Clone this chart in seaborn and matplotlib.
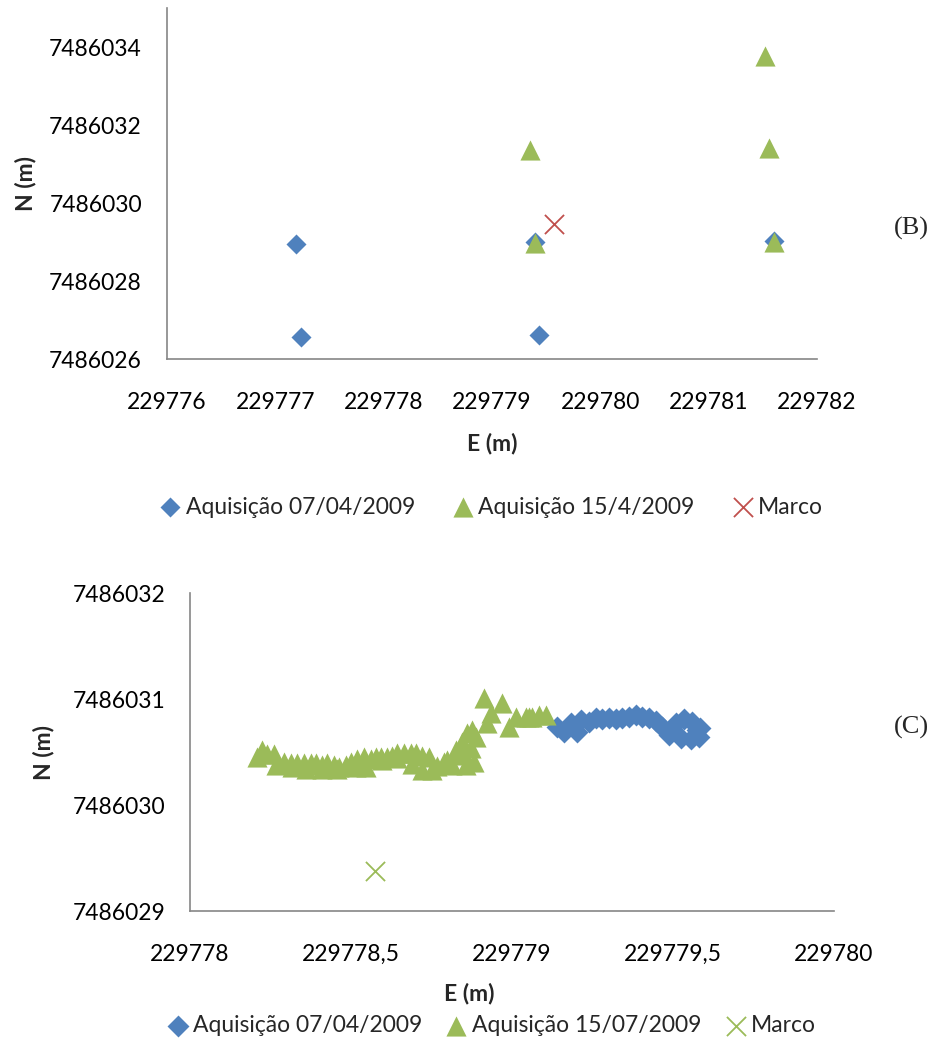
#-----------------------------------------------------------------
# Required Python Packages
#-----------------------------------------------------------------

import matplotlib
matplotlib.use("Agg")
import matplotlib.pyplot as plt
import seaborn as sns
from matplotlib.ticker import FixedLocator, FuncFormatter

#-----------------------------------------------------------------
# Data : panel (B)
#-----------------------------------------------------------------

B_BLUE_E = [229777.193, 229777.234, 229779.397, 229779.438, 229781.601]
B_BLUE_N = [7486028.949, 7486026.572, 7486029.010, 7486026.615, 7486029.030]

B_GREEN_E = [229779.355, 229779.397, 229781.518, 229781.559, 229781.601]
B_GREEN_N = [7486031.367, 7486028.982, 7486033.769, 7486031.403, 7486029.008]

B_MARCO_E = [229779.573]
B_MARCO_N = [7486029.462]

B_LABELS = ["Aquisição 07/04/2009", "Aquisição 15/4/2009", "Marco"]

#-----------------------------------------------------------------
# Data : panel (C)
#-----------------------------------------------------------------

C_BLUE_E = [229779.141, 229779.162, 229779.182, 229779.203, 229779.213,
            229779.239, 229779.260, 229779.280, 229779.301, 229779.322,
            229779.343, 229779.363, 229779.384, 229779.405, 229779.426,
            229779.446, 229779.467, 229779.488, 229779.508, 229779.524,
            229779.534, 229779.555, 229779.560, 229779.576, 229779.581,
            229779.583]
C_BLUE_N = [7486030.739, 7486030.692, 7486030.771, 7486030.692, 7486030.802,
            7486030.786, 7486030.818, 7486030.808, 7486030.818, 7486030.808,
            7486030.818, 7486030.833, 7486030.849, 7486030.833, 7486030.818,
            7486030.795, 7486030.739, 7486030.660, 7486030.771, 7486030.629,
            7486030.808, 7486030.620, 7486030.786, 7486030.708, 7486030.644,
            7486030.724]

C_GREEN_E = [229778.209, 229778.223, 229778.240, 229778.261, 229778.266,
             229778.292, 229778.313, 229778.318, 229778.333, 229778.354,
             229778.359, 229778.375, 229778.390, 229778.411, 229778.411,
             229778.426, 229778.447, 229778.457, 229778.463, 229778.484,
             229778.499, 229778.515, 229778.520, 229778.540, 229778.546,
             229778.561, 229778.577, 229778.592, 229778.597, 229778.613,
             229778.628, 229778.644, 229778.644, 229778.665, 229778.685,
             229778.690, 229778.701, 229778.721, 229778.721, 229778.742,
             229778.752, 229778.768, 229778.789, 229778.799, 229778.815,
             229778.825, 229778.840, 229778.846, 229778.850, 229778.856,
             229778.861, 229778.872, 229778.877, 229778.882, 229778.887,
             229778.913, 229778.923, 229778.934, 229778.970, 229778.991,
             229779.011, 229779.043, 229779.053, 229779.063, 229779.084,
             229779.105]
C_GREEN_N = [7486030.450, 7486030.519, 7486030.481, 7486030.481, 7486030.377,
             7486030.408, 7486030.393, 7486030.356, 7486030.393, 7486030.393,
             7486030.340, 7486030.393, 7486030.393, 7486030.377, 7486030.340,
             7486030.393, 7486030.377, 7486030.340, 7486030.356, 7486030.377,
             7486030.408, 7486030.361, 7486030.431, 7486030.450, 7486030.361,
             7486030.431, 7486030.450, 7486030.450, 7486030.425, 7486030.450,
             7486030.462, 7486030.488, 7486030.441, 7486030.493, 7486030.493,
             7486030.387, 7486030.488, 7486030.462, 7486030.330, 7486030.450,
             7486030.330, 7486030.368, 7486030.408, 7486030.425, 7486030.377,
             7486030.519, 7486030.470, 7486030.597, 7486030.480, 7486030.377,
             7486030.676, 7486030.540, 7486030.708, 7486030.408, 7486030.644,
             7486031.007, 7486030.771, 7486030.864, 7486030.959, 7486030.739,
             7486030.833, 7486030.833, 7486030.833, 7486030.833, 7486030.849,
             7486030.849]

C_MARCO_E = [229778.575]
C_MARCO_N = [7486029.377]

C_LABELS = ["Aquisição 07/04/2009", "Aquisição 15/07/2009", "Marco"]

#-----------------------------------------------------------------
# Styles
#-----------------------------------------------------------------

BLUE = "#4F81BD"
GREEN = "#9BBB59"
RED = "#C0504D"
AXIS_GREY = "#868686"
FONT = "Lato"
FSIZE = 16.5

#-----------------------------------------------------------------
# Function Name : comma_fmt
# Description   : tick label with a decimal comma
#-----------------------------------------------------------------
def comma_fmt(v, pos):
    if abs(v - round(v)) < 1e-6:
        return "%d" % int(round(v))
    return ("%.1f" % v).replace(".", ",")

#-----------------------------------------------------------------
# Function Name : style_axis
# Description   : Excel like axes, left + bottom spines only
#-----------------------------------------------------------------
def style_axis(ax, xticks, yticks, xlim, ylim):
    ax.set_xlim(*xlim)
    ax.set_ylim(*ylim)
    ax.xaxis.set_major_locator(FixedLocator(xticks))
    ax.yaxis.set_major_locator(FixedLocator(yticks))
    ax.xaxis.set_major_formatter(FuncFormatter(comma_fmt))
    ax.yaxis.set_major_formatter(FuncFormatter(comma_fmt))

    for side in ["top", "right"]:
        ax.spines[side].set_visible(False)
    for side in ["left", "bottom"]:
        ax.spines[side].set_color(AXIS_GREY)
        ax.spines[side].set_linewidth(1.2)

    ax.tick_params(direction="out", length=5, width=0.9, color=AXIS_GREY,
                   labelsize=FSIZE, labelcolor="black")
    ax.tick_params(axis="x", pad=19)
    ax.tick_params(axis="y", pad=13)
    for lab in ax.get_xticklabels() + ax.get_yticklabels():
        lab.set_family(FONT)

#-----------------------------------------------------------------
# Function Name : draw_series
# Description   : the three scatter series of one panel
#-----------------------------------------------------------------
def draw_series(ax, blue, green, marco, marco_color, labels, blue_size=104):
    sns.scatterplot(x=blue[0], y=blue[1], marker="D", color=BLUE, s=blue_size,
                    linewidth=0, ax=ax, legend=False, label=labels[0])
    sns.scatterplot(x=green[0], y=green[1], marker="^", color=GREEN, s=210,
                    linewidth=0, ax=ax, legend=False, label=labels[1])
    sns.scatterplot(x=marco[0], y=marco[1], marker="x", color=marco_color,
                    s=190, linewidth=1.3, ax=ax, legend=False, label=labels[2])

#-----------------------------------------------------------------
# Function Name : main
#-----------------------------------------------------------------
def main():
    sns.set_style("white")
    plt.rcParams["font.family"] = [FONT, "DejaVu Sans"]

    fig = plt.figure(figsize=(9.34, 10.41), dpi=100)
    W, H = 934.0, 1041.0

    # ---------------- panel (B)
    ax_b = fig.add_axes([167 / W, 1 - 359 / H, 650 / W, 351 / H])
    draw_series(ax_b, (B_BLUE_E, B_BLUE_N), (B_GREEN_E, B_GREEN_N),
                (B_MARCO_E, B_MARCO_N), RED, B_LABELS)
    style_axis(ax_b, list(range(229776, 229783)),
               list(range(7486026, 7486035, 2)),
               (229776, 229782), (7486026, 7486035))
    ax_b.set_xlabel("E (m)", fontsize=FSIZE, fontweight="bold", family=FONT)
    ax_b.set_ylabel("N (m)", fontsize=FSIZE, fontweight="bold", family=FONT)
    ax_b.xaxis.set_label_coords(0.5, -0.211)
    ax_b.yaxis.set_label_coords(-0.2006, 0.5)

    h, l = ax_b.get_legend_handles_labels()
    fig.legend(h, l, loc="center", bbox_to_anchor=(491 / W, 1 - 507 / H),
               ncol=3, frameon=False, handlelength=1.0, handletextpad=0.17,
               columnspacing=1.6, borderpad=0,
               prop={"family": FONT, "size": FSIZE})

    # ---------------- panel (C)
    ax_c = fig.add_axes([190 / W, 1 - 911 / H, 644 / W, 318 / H])
    draw_series(ax_c, (C_BLUE_E, C_BLUE_N), (C_GREEN_E, C_GREEN_N),
                (C_MARCO_E, C_MARCO_N), GREEN, C_LABELS, blue_size=125)
    style_axis(ax_c, [229778, 229778.5, 229779, 229779.5, 229780],
               [7486029, 7486030, 7486031, 7486032],
               (229778, 229780), (7486029, 7486032))
    ax_c.set_xlabel("E (m)", fontsize=FSIZE, fontweight="bold", family=FONT)
    ax_c.set_ylabel("N (m)", fontsize=FSIZE, fontweight="bold", family=FONT)
    ax_c.xaxis.set_label_coords(0.433, -0.226)
    ax_c.yaxis.set_label_coords(-0.210, 0.5)

    h, l = ax_c.get_legend_handles_labels()
    fig.legend(h, l, loc="center", bbox_to_anchor=(491 / W, 1 - 1026 / H),
               ncol=3, frameon=False, handlelength=1.0, handletextpad=0.17,
               columnspacing=1.0, borderpad=0,
               prop={"family": FONT, "size": FSIZE})

    # ---------------- panel tags
    fig.text(911 / W, 1 - 228 / H, "(B)", ha="center", va="center",
             fontsize=19, family="Liberation Serif")
    fig.text(911 / W, 1 - 727 / H, "(C)", ha="center", va="center",
             fontsize=19, family="Liberation Serif")

    fig.savefig("out.png", dpi=100)

#-----------------------------------------------------------------
# Application starter
#-----------------------------------------------------------------
if __name__ == "__main__":
    main()
